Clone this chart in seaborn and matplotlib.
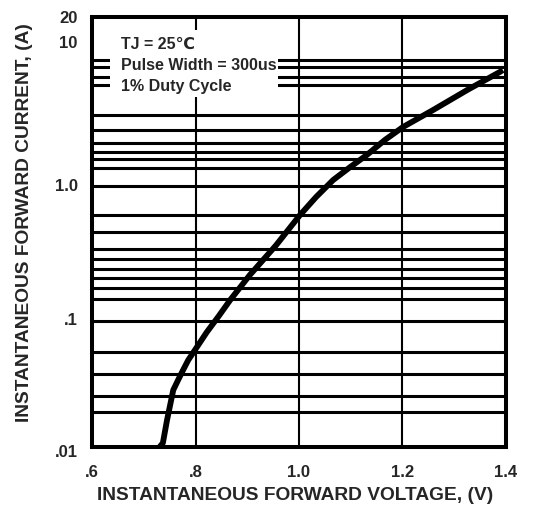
import numpy as np
import pandas as pd
import matplotlib
matplotlib.use("Agg")
import matplotlib.pyplot as plt
import matplotlib.transforms as mtransforms
from matplotlib.patches import Rectangle
import seaborn as sns

# ---- data ----
voltage = [0.731, 0.737, 0.745, 0.757, 0.767, 0.776, 0.786, 0.799, 0.822, 0.845,
           0.867, 0.905, 0.955, 1.002, 1.033, 1.066, 1.099, 1.131, 1.166, 1.201,
           1.259, 1.325, 1.388, 1.394]
current = [0.0115, 0.0123, 0.0182, 0.0304, 0.0365, 0.0428, 0.0508, 0.0604, 0.0821, 0.108,
           0.142, 0.218, 0.36, 0.609, 0.828, 1.108, 1.384, 1.70, 2.20, 2.746,
           3.67, 5.17, 7.04, 7.28]

grid_current = [8.65, 7.67, 6.46, 5.64, 3.37, 2.61, 2.09, 1.79, 1.59, 1.36, 1.0,
                0.609, 0.455, 0.340, 0.2866, 0.2415, 0.207, 0.1744, 0.1445, 0.1,
                0.0583, 0.040, 0.0275, 0.0209]
grid_voltage = [0.8, 1.0, 1.2]

x_ticks = [0.6, 0.8, 1.0, 1.2, 1.4]
x_tick_labels = [".6", ".8", "1.0", "1.2", "1.4"]
y_tick_values = [0.0105, 0.1, 1.0, 11.4, 17.7]
y_tick_labels = [".01", ".1", "1.0", "10", "20"]

notes = ["TJ = 25\u2103", "Pulse Width = 300us", "1% Duty Cycle"]
x_title = "INSTANTANEOUS FORWARD VOLTAGE, (V)"
y_title = "INSTANTANEOUS FORWARD CURRENT, (A)"

y_limits = (0.01147, 18.05)
x_limits = (0.6, 1.4)

# ---- style ----
sns.set_style("white")
FONT = ["Liberation Sans", "DejaVu Sans"]
plt.rcParams["font.family"] = FONT

fig = plt.figure(figsize=(5.36, 5.12), dpi=100)
ax = fig.add_axes([92 / 536, 1 - 447 / 512, 414 / 536, 430 / 512])

df = pd.DataFrame({"V": voltage, "I": current})
for g in grid_current:
    ax.axhline(g, color="black", lw=2.2, zorder=1)
for g in grid_voltage:
    ax.axvline(g, color="black", lw=1.5, zorder=1)

sns.lineplot(data=df, x="V", y="I", ax=ax, color="black", lw=4.2,
             zorder=4, solid_capstyle="butt", solid_joinstyle="round")

ax.set_yscale("log")
ax.set_xlim(*x_limits)
ax.set_ylim(*y_limits)
ax.set_xticks(x_ticks)
ax.set_xticklabels(x_tick_labels, fontsize=12, fontweight="bold")
ax.set_yticks([])
ax.minorticks_off()
ax.set_yticks([], minor=True)
ax.tick_params(axis="x", length=0, pad=13)
ax.set_xlabel("")
ax.set_ylabel("")

blend = mtransforms.blended_transform_factory(ax.transAxes, ax.transData)
for v, lab in zip(y_tick_values, y_tick_labels):
    ax.text(-0.035, v, lab, transform=blend, ha="right", va="center",
            fontsize=12, fontweight="bold", clip_on=False)

for s in ax.spines.values():
    s.set_linewidth(2.9)
    s.set_color("black")
    s.set_zorder(5)

# white box behind the notes
ax.add_patch(Rectangle(((110 - 92) / 414, (447 - 97) / 430),
                       (278 - 110) / 414, (97 - 30) / 430,
                       transform=ax.transAxes, facecolor="white",
                       edgecolor="none", zorder=2))
for i, t in enumerate(notes):
    fig.text(121 / 536, 1 - (44 + 21 * i) / 512, t, ha="left", va="center",
             fontsize=11.5, fontweight="bold", family=FONT, zorder=6)

fig.text(295 / 536, 1 - 495 / 512, x_title, ha="center", va="center",
         fontsize=13.8, fontweight="bold")
fig.text(25 / 536, 1 - 223 / 512, y_title, ha="center", va="center",
         rotation=90, fontsize=13.8, fontweight="bold")

fig.savefig("out.png", dpi=100, facecolor="white")
